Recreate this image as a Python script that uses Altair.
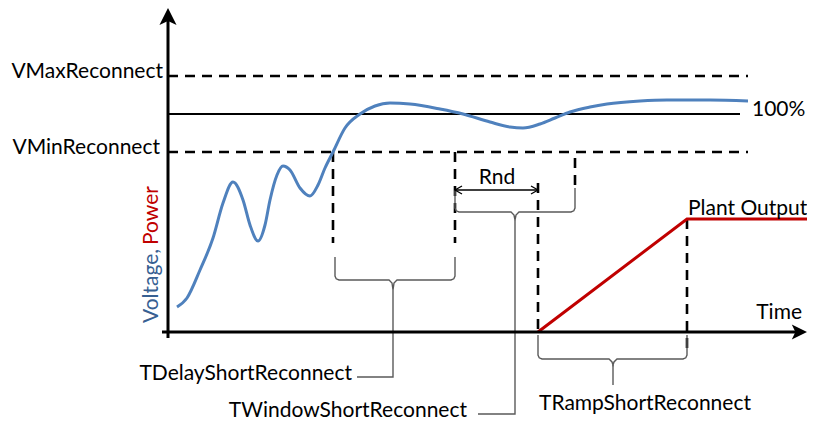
import altair as alt
import pandas as pd

# Frame of the schematic: t = time (px to the right of the vertical axis),
# v = level (px above the time axis).

# Threshold levels (dashed = reconnect window, solid = 100 %)
level_names = ["VMaxReconnect", "100%", "VMinReconnect"]
level_v = [256, 218, 180]
level_end = [580, 572, 580]

# Voltage trace (blue)
volt_t = [9, 19, 32, 45, 55, 65, 75, 82, 90, 97, 102, 109, 115, 122, 132, 142, 150,
          157, 165, 177, 192, 207, 222, 242, 272, 295, 322, 342, 355, 372, 387, 402,
          422, 439, 472, 499, 542, 580]
volt_v = [25, 34, 62, 94, 129, 150, 132, 107, 91, 107, 132, 157, 166, 162, 144, 136, 147,
          164, 180, 204, 218, 226, 229, 228, 223, 218, 210, 205, 204, 208, 214, 220,
          225, 228, 231, 232, 232, 231]

# Plant output (red)
power_t = [370, 519, 640]
power_v = [0, 113, 113]

# Dashed time markers
marker_t = [165, 287, 370, 407, 519]
marker_top = [180, 180, 149, 174, 113]
marker_bottom = [89, 89, 0, 144, -16]

# Braces for the timers
brace_names = ["TDelayShortReconnect", "TWindowShortReconnect", "TRampShortReconnect"]
brace_left = [167, 287, 370]
brace_right = [287, 407, 519]
brace_arm_left = [75, 142, -3]
brace_arm_right = [75, 144, -3]
brace_bar = [52, 120, -27]
brace_mid = [225, 347, 445]
brace_tip = [42, 112, -33]
leader_bottom = [-45, -82, -53]
leader_end = [189, 310, 445]
brace_label_t = [184, 299, 371]
brace_label_v = [-48, -85, -78]

# Random delay arrow
rnd_t = [287, 370]
rnd_v = 142

FONT = "Lato"
FS = 21

xs = alt.Scale(domain=[-160, 639], nice=False, zero=False)
ys = alt.Scale(domain=[-90, 324], nice=False, zero=False)


def enc(ch, order=True):
    e = dict(x=alt.X("t:Q", scale=xs, axis=None),
             y=alt.Y("v:Q", scale=ys, axis=None))
    if order:
        e["detail"] = "id:N"
        e["order"] = "o:Q"
    return ch.encode(**e)


def paths(list_of_paths):
    rows = []
    for pid, pts in enumerate(list_of_paths):
        for k, (t, v) in enumerate(pts):
            rows.append({"t": t, "v": v, "id": pid, "o": k})
    return pd.DataFrame(rows)


# --- axes
axis_df = paths([[(0, -6), (0, 312)], [(-6, 0), (634, 0)]])
axes = enc(alt.Chart(axis_df).mark_line(color="black", strokeWidth=3))

arrow_up = enc(alt.Chart(pd.DataFrame({"t": [0], "v": [315]})).mark_point(
    shape="M0,-1 L0.95,0.9 L0,0.45 L-0.95,0.9 Z", size=324, filled=True,
    color="black", opacity=1, strokeWidth=0), order=False)
arrow_right = enc(alt.Chart(pd.DataFrame({"t": [631], "v": [0]})).mark_point(
    shape="M1,0 L-0.9,0.95 L-0.45,0 L-0.9,-0.95 Z", size=256, filled=True,
    color="black", opacity=1, strokeWidth=0), order=False)

# --- threshold lines
dash_paths = [[(0, level_v[0]), (level_end[0], level_v[0])],
              [(0, level_v[2]), (level_end[2], level_v[2])]]
dash_paths += [[(t, a), (t, b)] for t, a, b in zip(marker_t, marker_top, marker_bottom)]
dashed = enc(alt.Chart(paths(dash_paths)).mark_line(
    color="black", strokeWidth=2.6, strokeDash=[10, 7]))
solid100 = enc(alt.Chart(paths([[(0, level_v[1]), (level_end[1], level_v[1])]])).mark_line(
    color="black", strokeWidth=2))

# --- curves
volt = alt.Chart(pd.DataFrame({"t": volt_t, "v": volt_v})).mark_line(
    color="#4F81BD", strokeWidth=3, interpolate="monotone").encode(
    x=alt.X("t:Q", scale=xs, axis=None), y=alt.Y("v:Q", scale=ys, axis=None))
power = alt.Chart(pd.DataFrame({"t": power_t, "v": power_v})).mark_line(
    color="#C00000", strokeWidth=3).encode(
    x=alt.X("t:Q", scale=xs, axis=None), y=alt.Y("v:Q", scale=ys, axis=None))


# --- braces
def brace_path(i):
    t0, t1 = brace_left[i], brace_right[i]
    a0, a1 = brace_arm_left[i], brace_arm_right[i]
    b, m, tip = brace_bar[i], brace_mid[i], brace_tip[i]
    s = 1 if b > a0 else -1
    return [(t0, a0), (t0, b - s * 4), (t0 + 1.2, b - s * 1.2), (t0 + 4, b),
            (m - 4, b), (m - 1, b + s * 3), (m, tip),
            (m + 1, b + s * 3), (m + 4, b),
            (t1 - 4, b), (t1 - 1.2, b - s * 1.2), (t1, b - s * 4), (t1, a1)]


brace_list = [brace_path(i) for i in range(3)]
brace_list += [[(brace_mid[i], brace_tip[i]), (brace_mid[i], leader_bottom[i]),
                (leader_end[i], leader_bottom[i])] for i in range(3)]
braces = enc(alt.Chart(paths(brace_list)).mark_line(color="#5a5a5a", strokeWidth=1.4))

# --- Rnd double arrow
rnd_list = [[(rnd_t[0], rnd_v), (rnd_t[1], rnd_v)],
            [(rnd_t[0] + 7, rnd_v + 4), (rnd_t[0], rnd_v), (rnd_t[0] + 7, rnd_v - 4)],
            [(rnd_t[1] - 7, rnd_v + 4), (rnd_t[1], rnd_v), (rnd_t[1] - 7, rnd_v - 4)]]
rnd = enc(alt.Chart(paths(rnd_list)).mark_line(color="black", strokeWidth=1.3))


# --- text
def text_layer(texts, ts, vs, align, color="black", angle=0):
    df = pd.DataFrame({"label": texts, "t": ts, "v": vs})
    return alt.Chart(df).mark_text(
        align=align, baseline="alphabetic", font=FONT, fontSize=FS,
        color=color, angle=angle).encode(
        x=alt.X("t:Q", scale=xs, axis=None), y=alt.Y("v:Q", scale=ys, axis=None),
        text="label:N")


right_text = text_layer(
    [level_names[0], level_names[2], "Time", brace_names[0], brace_names[1]],
    [-5, -8, 634, brace_label_t[0], brace_label_t[1]],
    [254, 178, 13, brace_label_v[0], brace_label_v[1]], "right")
left_text = text_layer(
    [level_names[1], "Plant Output", brace_names[2]],
    [584, 520, brace_label_t[2]],
    [216, 117, brace_label_v[2]], "left")
center_text = text_layer(["Rnd"], [329], [148], "center")
ylab_v = text_layer(["Voltage,"], [-10], [9], "left", color="#376092", angle=270)
ylab_p = text_layer(["Power"], [-10], [87], "left", color="#C00000", angle=270)

chart = alt.layer(
    dashed, solid100, braces, rnd, volt, power, axes, arrow_up, arrow_right,
    right_text, left_text, center_text, ylab_v, ylab_p
).properties(
    width=799, height=414, padding=0, autosize=alt.AutoSizeParams(type="none"),
    background="white"
).configure_view(stroke=None)

chart.save("out.html", embed_options={"renderer": "svg", "actions": False})
